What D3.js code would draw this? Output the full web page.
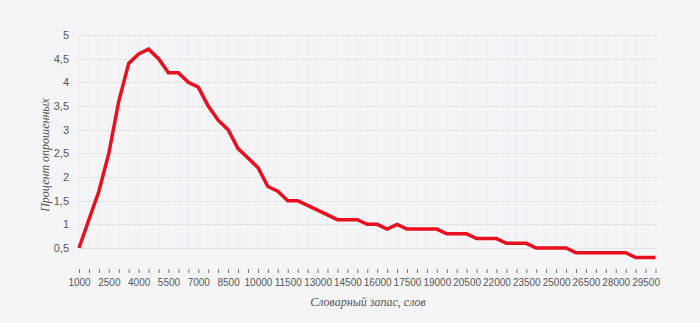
<!DOCTYPE html>
<html><head><meta charset="utf-8">
<script src="https://cdn.jsdelivr.net/npm/d3@7"></script>
<style>
html,body{margin:0;padding:0;background:#f5f5f7;}
svg{display:block;}
</style></head>
<body>
<svg id="chart" width="700" height="323"></svg>
<script>
// Data
const vocabulary = d3.range(1000, 30001, 500); // 59 categories
const percent = [0.5,1.1,1.7,2.5,3.6,4.4,4.6,4.7,4.5,4.2,4.2,4.0,3.9,3.5,3.2,3.0,2.6,2.4,2.2,1.8,1.7,1.5,1.5,1.4,1.3,1.2,1.1,1.1,1.1,1.0,1.0,0.9,1.0,0.9,0.9,0.9,0.9,0.8,0.8,0.8,0.7,0.7,0.7,0.6,0.6,0.6,0.5,0.5,0.5,0.5,0.4,0.4,0.4,0.4,0.4,0.4,0.3,0.3,0.3];
const yTicks = [0.5,1,1.5,2,2.5,3,3.5,4,4.5,5];
const xLabelTicks = d3.range(1000, 29501, 1500);
const xTitle = "Словарный запас, слов";
const yTitle = "Процент опрошенных";

const svg = d3.select("#chart");
const x = d3.scaleLinear().domain([1000, 30000]).range([79, 655.5]);
const y = d3.scaleLinear().domain([0, 5]).range([271.7, 35]);

// vertical faint grid
svg.append("g").selectAll("line").data(vocabulary).join("line")
  .attr("x1", d => x(d)).attr("x2", d => x(d))
  .attr("y1", y(5)).attr("y2", y(0.5))
  .attr("stroke", "#efeff2").attr("stroke-width", 1);

// horizontal grid
svg.append("g").selectAll("line").data(yTicks).join("line")
  .attr("x1", 79).attr("x2", 657)
  .attr("y1", d => Math.round(y(d)) + 0.5).attr("y2", d => Math.round(y(d)) + 0.5)
  .attr("stroke", "#e3e3e6").attr("stroke-width", 1);

// y labels
const fmt = d => String(d).replace(".", ",");
svg.append("g").selectAll("text").data(yTicks).join("text")
  .attr("x", 69).attr("y", d => y(d)).attr("dy", "0.35em")
  .attr("text-anchor", "end")
  .attr("font-family", "Liberation Sans, Arial, sans-serif")
  .attr("font-size", 11).attr("fill", "#555")
  .text(fmt);

// x axis ticks
const xAxis = d3.axisBottom(x).tickValues(vocabulary).tickSize(4).tickFormat(d => xLabelTicks.includes(d) ? d : "");
const gx = svg.append("g").attr("transform", "translate(0,269)").call(xAxis);
gx.select(".domain").remove();
gx.selectAll(".tick line").attr("stroke", "#777");
gx.selectAll(".tick text").attr("font-family", "Liberation Sans, Arial, sans-serif")
  .attr("font-size", 10).attr("fill", "#555").attr("dy", "0.95em");

// axis titles
svg.append("text").attr("x", 368).attr("y", 302).attr("dy", "0.35em")
  .attr("text-anchor", "middle")
  .attr("font-family", "Liberation Serif, Times New Roman, serif")
  .attr("font-style", "italic").attr("font-size", 12).attr("fill", "#555")
  .text(xTitle);
svg.append("text").attr("transform", "translate(45,155) rotate(-90)")
  .attr("text-anchor", "middle").attr("dy", "0.35em")
  .attr("font-family", "Liberation Serif, Times New Roman, serif")
  .attr("font-style", "italic").attr("font-size", 12).attr("fill", "#555")
  .text(yTitle);

// line
const line = d3.line().x((d, i) => x(vocabulary[i])).y(d => y(d));
svg.append("path").datum(percent)
  .attr("d", line).attr("fill", "none")
  .attr("stroke", "#e8101f").attr("stroke-width", 3.5)
  .attr("stroke-linejoin", "miter");
</script>
</body></html>
